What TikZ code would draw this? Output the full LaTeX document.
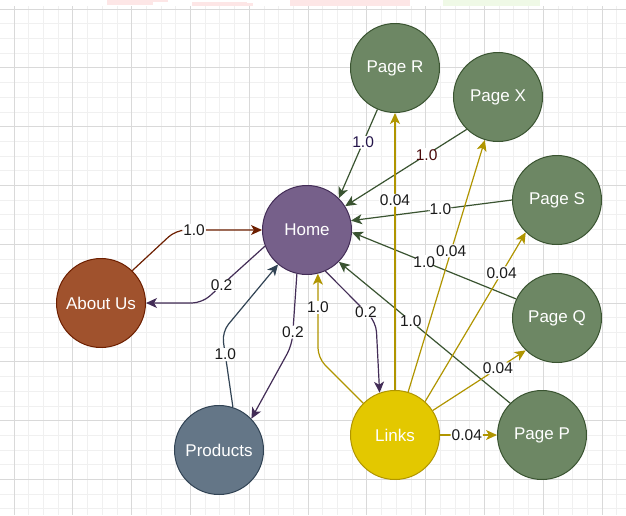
\documentclass[tikz,border=0pt]{standalone}
\usepackage{fontspec}
\setmainfont{Liberation Sans}
\usetikzlibrary{arrows.meta}
\definecolor{gridminor}{HTML}{F0F0F0}
\definecolor{gridmajor}{HTML}{D9D9D9}
\definecolor{homefill}{HTML}{76608A}
\definecolor{homeline}{HTML}{432D57}
\definecolor{aboutfill}{HTML}{A0522D}
\definecolor{aboutline}{HTML}{6D1F00}
\definecolor{prodfill}{HTML}{647687}
\definecolor{prodline}{HTML}{314354}
\definecolor{linksfill}{HTML}{E3C800}
\definecolor{linksline}{HTML}{B09500}
\definecolor{pagefill}{HTML}{6D8764}
\definecolor{pageline}{HTML}{3A5431}
\definecolor{labeltext}{HTML}{1A1A1A}
\definecolor{labelpurple}{HTML}{24154A}
\definecolor{labelred}{HTML}{4A0A0A}
\definecolor{fragpink}{HTML}{FDE6E6}
\definecolor{fraggreen}{HTML}{EFF9E6}
\tikzset{
  vertex/.style={circle, minimum size=89pt, inner sep=0pt, line width=1pt,
    text=white, font=\fontsize{17}{20}\selectfont},
  homenode/.style={vertex, fill=homefill, draw=homeline},
  aboutnode/.style={vertex, fill=aboutfill, draw=aboutline},
  prodnode/.style={vertex, fill=prodfill, draw=prodline},
  linksnode/.style={vertex, fill=linksfill, draw=linksline},
  pagenode/.style={vertex, fill=pagefill, draw=pageline},
  edge/.style={line width=1.2pt, rounded corners=10pt,
    -{Stealth[length=11pt,width=10pt,inset=3pt]}},
  lbl/.style={fill=white, inner sep=1pt, text=labeltext,
    font=\fontsize{15.5}{17}\selectfont},
  gminor/.style={draw=gridminor, line width=0.8pt},
  gmajor/.style={draw=gridmajor, line width=0.8pt}
}
\begin{document}
\begin{tikzpicture}[x=1pt, y=-1pt]
\useasboundingbox (0,0) rectangle (626,515);
\fill[white] (0,0) rectangle (626,515);
% fragments at the top edge
\fill[fragpink] (107,0) rectangle (153,5);
\fill[fragpink] (153,0) rectangle (168,2);
\fill[fragpink] (192,2) rectangle (247,6);
\fill[fragpink] (247,3) rectangle (253,6);
\fill[fragpink] (290,0) rectangle (410,6);
\fill[fraggreen] (443,0) rectangle (540,6);
% grid
\begin{scope}
\clip (0,6) rectangle (626,515);
\foreach \i in {-1,...,42} {
  \pgfmathsetmacro\xx{14+\i*14.7}
  \draw[gminor] (\xx,6) -- (\xx,515);
}
\foreach \j in {0,...,35} {
  \pgfmathsetmacro\yy{9+\j*14.7}
  \draw[gminor] (0,\yy) -- (626,\yy);
}
\foreach \i in {0,...,10} {
  \pgfmathsetmacro\xx{14+\i*58.8}
  \draw[gmajor] (\xx,6) -- (\xx,515);
}
\foreach \j in {0,...,8} {
  \pgfmathsetmacro\yy{9+\j*58.8}
  \draw[gmajor] (0,\yy) -- (626,\yy);
}
\end{scope}
% nodes
\node[homenode]  (home)     at (307,230) {Home};
\node[aboutnode] (about)    at (101,303) {About Us};
\node[prodnode]  (products) at (219,450) {Products};
\node[linksnode] (links)    at (395,435) {Links};
\node[pagenode]  (pager)    at (395,68)  {Page R};
\node[pagenode]  (pagex)    at (498,97)  {Page X};
\node[pagenode]  (pages)    at (557,200) {Page S};
\node[pagenode]  (pageq)    at (557,318) {Page Q};
\node[pagenode]  (pagep)    at (542,435) {Page P};
% edges: pages to home
\draw[edge, pageline] (pager.247) -- node[lbl, pos=0.37, text=labelpurple] {1.0} (home.45);
\draw[edge, pageline] (pagex.226) -- node[lbl, pos=0.33, text=labelred] {1.0} (home.32);
\draw[edge, pageline] (pages.west) -- node[lbl, pos=0.445] {1.0} (home.12);
\draw[edge, pageline] (pageq.155) -- node[lbl, pos=0.56] {1.0} (home.357);
\draw[edge, pageline] (pagep.135) -- node[lbl, pos=0.58] {1.0} (home.315);
% about, products
\draw[edge, aboutline] (about.46) -- (176,230) -- node[lbl, pos=0.21] {1.0} (home.west);
\draw[edge, homeline] (home.201) -- node[lbl, pos=0.69] {0.2} (202,303) -- (about.east);
\draw[edge, prodline] (products.72) -- node[lbl, pos=0.7] {1.0} (222,332) -- (home.230);
\draw[edge, homeline] (home.257) -- node[lbl, pos=0.82] {0.2} (292,345) -- (products.44);
% links
\draw[edge, homeline] (home.294) -- node[lbl, pos=0.8] {0.2} (376,322) -- (links.110);
\draw[edge, linksline] (links.135) -- (318,358) -- node[lbl, pos=0.6] {1.0} (home.284);
\draw[edge, linksline] (links.north) -- node[lbl, pos=0.685] {0.04} (pager.south);
\draw[edge, linksline] (links.73) -- node[lbl, pos=0.56] {0.04} (pagex.253);
\draw[edge, linksline] (links.48) -- node[lbl, pos=0.76] {0.04} (pages.226);
\draw[edge, linksline] (links.33) -- node[lbl, pos=0.7] {0.04} (pageq.226);
\draw[edge, linksline] (links.east) -- node[lbl, pos=0.47] {0.04} (pagep.west);
\end{tikzpicture}
\end{document}
